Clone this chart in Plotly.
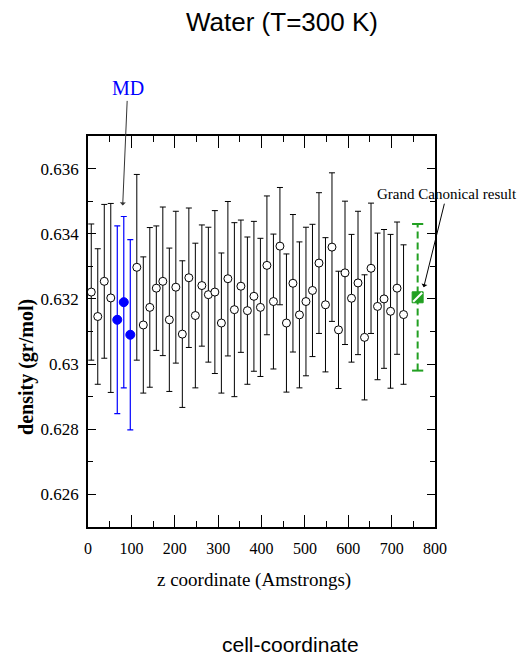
import plotly.graph_objects as go

# ---- data ----
z_bulk = [7.5, 22.5, 37.5, 52.5,
          112.5, 127.5, 142.5, 157.5, 172.5, 187.5, 202.5, 217.5, 232.5, 247.5,
          262.5, 277.5, 292.5, 307.5, 322.5, 337.5, 352.5, 367.5, 382.5, 397.5,
          412.5, 427.5, 442.5, 457.5, 472.5, 487.5, 502.5, 517.5, 532.5, 547.5,
          562.5, 577.5, 592.5, 607.5, 622.5, 637.5, 652.5, 667.5, 682.5, 697.5,
          712.5, 727.5]
rho_bulk = [0.63221, 0.63146, 0.63254, 0.63203,
            0.63297, 0.63120, 0.63174, 0.63233, 0.63254, 0.63136, 0.63236, 0.63092,
            0.63265, 0.63149, 0.63241, 0.63213, 0.63221, 0.63126, 0.63262, 0.63167,
            0.63239, 0.63164, 0.63208, 0.63174, 0.63303, 0.63192, 0.63362, 0.63126,
            0.63248, 0.63151, 0.63192, 0.63226, 0.63310, 0.63182, 0.63359, 0.63105,
            0.63280, 0.63202, 0.63249, 0.63082, 0.63294, 0.63177, 0.63200, 0.63162,
            0.63233, 0.63152]
err_bulk = [0.00209, 0.00208, 0.00236, 0.00290,
            0.00285, 0.00209, 0.00245, 0.00191, 0.00228, 0.00220, 0.00233, 0.00225,
            0.00214, 0.00222, 0.00186, 0.00207, 0.00250, 0.00215, 0.00237, 0.00267,
            0.00203, 0.00226, 0.00230, 0.00212, 0.00213, 0.00207, 0.00180, 0.00212,
            0.00211, 0.00224, 0.00228, 0.00203, 0.00216, 0.00206, 0.00228, 0.00180,
            0.00220, 0.00196, 0.00220, 0.00192, 0.00200, 0.00225, 0.00213, 0.00236,
            0.00203, 0.00214]

z_md = [67.5, 82.5, 97.5]
rho_md = [0.63136, 0.63190, 0.63090]
err_md = [0.00288, 0.00263, 0.00292]

z_gc = [760]
rho_gc = [0.63205]
err_gc = [0.00225]

x_ticks = [0, 100, 200, 300, 400, 500, 600, 700, 800]

SERIF = "Liberation Serif, Times New Roman, serif"
SANS = "Liberation Sans, Arial, sans-serif"
GREEN = "#22a022"

fig = go.Figure()

fig.add_trace(go.Scatter(
    x=z_bulk, y=rho_bulk, mode="markers",
    marker=dict(symbol="circle", size=8, color="white", line=dict(color="black", width=1)),
    error_y=dict(type="data", array=err_bulk, visible=True, color="black", thickness=1, width=3),
    showlegend=False))

fig.add_trace(go.Scatter(
    x=z_md, y=rho_md, mode="markers",
    marker=dict(symbol="circle", size=9, color="#0000ff", line=dict(color="#0000ff", width=1)),
    error_y=dict(type="data", array=err_md, visible=True, color="#0000ff", thickness=1.2, width=3),
    showlegend=False))

# Grand canonical: dashed error bar
gc_lo = [r - e for r, e in zip(rho_gc, err_gc)]
gc_hi = [r + e for r, e in zip(rho_gc, err_gc)]
fig.add_trace(go.Scatter(
    x=[z_gc[0], z_gc[0]], y=[gc_lo[0], gc_hi[0]], mode="lines+markers",
    line=dict(color=GREEN, width=2, dash="7px,4px"),
    marker=dict(symbol="line-ew", size=8, line=dict(color=GREEN, width=2)),
    showlegend=False))
fig.add_trace(go.Scatter(
    x=z_gc, y=rho_gc, mode="markers",
    marker=dict(symbol="square", size=11, color=GREEN, line=dict(color=GREEN, width=1)),
    showlegend=False))
fig.add_trace(go.Scatter(
    x=z_gc, y=rho_gc, mode="markers",
    marker=dict(symbol="line-ne", size=9, line=dict(color="white", width=2)),
    showlegend=False))

fig.update_layout(
    width=521, height=653,
    margin=dict(l=80, r=94, t=128, b=134),
    paper_bgcolor="white", plot_bgcolor="white",
    showlegend=False,
    xaxis=dict(range=[0, 800], tickvals=x_ticks, showgrid=False, zeroline=False,
               showline=True, linecolor="black", linewidth=1.5, mirror="allticks",
               ticks="inside", ticklen=12, tickcolor="black", tickwidth=1,
               minor=dict(ticks="inside", dtick=50, ticklen=6, tickcolor="black", showgrid=False),
               tickfont=dict(family=SERIF, size=16, color="black"),
               ticklabelstandoff=6),
    yaxis=dict(range=[0.625, 0.637], dtick=0.002, showgrid=False, zeroline=False,
               showline=True, linecolor="black", linewidth=1.5, mirror="allticks",
               ticks="inside", ticklen=8, tickcolor="black", tickwidth=1,
               minor=dict(ticks="inside", dtick=0.001, ticklen=5, tickcolor="black", showgrid=False),
               tickfont=dict(family=SERIF, size=17, color="black"),
               ticklabelstandoff=4),
)

annotations = [
    dict(text="Water (T=300 K)", xref="paper", yref="paper", x=0.559, y=1.292,
         showarrow=False, font=dict(family=SANS, size=26, color="black"),
         xanchor="center", yanchor="middle"),
    dict(text="cell-coordinate", xref="paper", yref="paper", x=0.585, y=-0.300,
         showarrow=False, font=dict(family=SANS, size=21, color="black"),
         xanchor="center", yanchor="middle"),
    dict(text="z coordinate (Amstrongs)", xref="paper", yref="paper", x=0.478, y=-0.136,
         showarrow=False, font=dict(family=SERIF, size=19, color="black"),
         xanchor="center", yanchor="middle"),
    dict(text="<b>density (gr/mol)</b>", xref="paper", yref="paper", x=-0.178, y=0.41,
         showarrow=False, textangle=-90, font=dict(family=SERIF, size=20, color="black"),
         xanchor="center", yanchor="middle"),
    dict(text="MD", x=80, y=0.63487, xref="x", yref="y",
         showarrow=True, ax=5, ay=-117, arrowhead=1, arrowsize=1, arrowwidth=1,
         arrowcolor="#333333", font=dict(family=SERIF, size=20, color="#0000ff")),
    dict(text="Grand Canonical result", x=774, y=0.63236, xref="x", yref="y",
         showarrow=True, ax=23, ay=-93, arrowhead=1, arrowsize=1, arrowwidth=1,
         arrowcolor="black", font=dict(family=SERIF, size=15, color="black")),
]
fig.update_layout(annotations=annotations)

fig.write_html("out.html")
